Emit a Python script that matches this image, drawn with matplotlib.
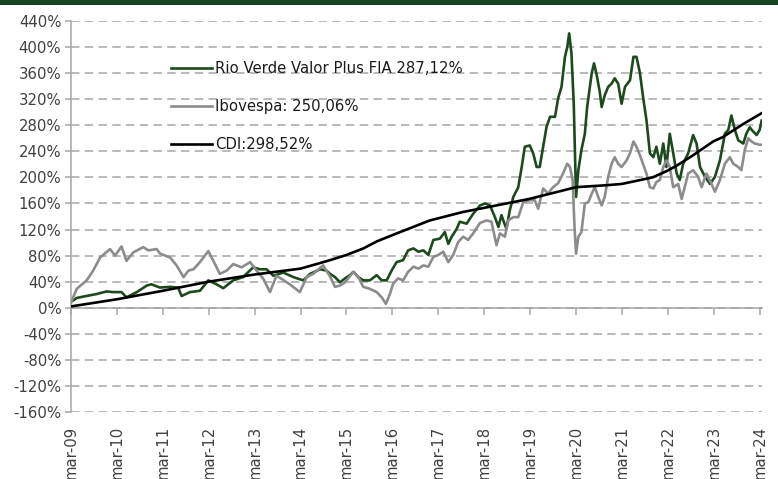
import matplotlib
matplotlib.use("Agg")
import matplotlib.pyplot as plt
from matplotlib.patches import Rectangle

# ---------------- data (months since Mar-2009, cumulative return %) ----------------
rv_months = [0, 1.5, 4, 6.7, 9.3, 11, 13.2, 14.5, 17.2, 19.8, 21, 23.2, 25.9, 28, 28.9, 31.1,
             33.7, 35.9, 38, 39.8, 42.4, 45, 47.6, 49.4, 51.1, 52.9, 55.5, 58.1, 60.7, 62.5,
             65.1, 66.8, 67.7, 69, 70.3, 71.6, 72.9, 73.8, 75.1, 76.4, 78.1, 79.9, 81.2, 82.5,
             83.8, 85.1, 86.8, 88.1, 89.5, 90.8, 92.1, 93.4, 94.7, 96.4, 97.7, 98.6, 99.5,
             100.8, 101.6, 103.4, 105.1, 106.9, 108.2, 109.5, 110.8, 111.7, 112.5, 113.8,
             114.7, 115.6, 116.9, 117.8, 118.6, 119.9, 120.8, 121.7, 122.5, 123.4, 124.3,
             125.2, 126.5, 127.3, 128.2, 129.1, 129.7, 130.2, 130.8, 131.4, 132.0, 132.6,
             133.4, 134.3, 134.9, 136.1, 136.7, 137.4, 138.2, 138.7, 139.5, 140.4, 141.3,
             142.1, 143.0, 143.9, 144.8, 146.1, 147.0, 147.8, 148.7, 149.5, 150.4, 151.3,
             152.2, 153.0, 153.9, 154.8, 155.6, 156.5, 157.4, 158.3, 159.1, 160.0, 161.3,
             162.6, 163.5, 164.4, 165.7, 167.0, 168.3, 169.6, 170.9, 171.8, 172.6, 173.5,
             174.4, 175.7, 176.5, 177.4, 177.9, 179.2, 180.0, 180.5]
rv_values = [9, 15, 18, 21, 25, 24, 24, 16, 24, 34, 36, 31, 32, 31, 18, 24,
             26, 42, 36, 30, 42, 47, 62, 59, 59, 49, 54, 47, 42, 52,
             59, 57, 52, 47, 39, 45, 50, 55, 47, 42, 42, 50, 42, 42,
             57, 70, 73, 88, 91, 86, 88, 81, 104, 106, 116, 98, 109,
             121, 132, 129, 144, 157, 160, 157, 139, 124, 142, 121,
             150, 170, 185, 216, 247, 249, 237, 216, 216, 247, 278,
             293, 293, 321, 339, 385, 400, 421, 390, 313, 170, 211,
             242, 267, 308, 360, 375, 357, 331, 308, 326, 339, 344,
             352, 344, 313, 339, 349, 385, 385, 360, 324, 288, 237,
             231, 247, 221, 252, 216, 267, 237, 206, 196, 221, 237,
             265, 252, 216, 201, 190, 201, 226, 267, 273, 295, 273,
             257, 252, 267, 277, 273, 265, 273, 287.12]

ibov_months = [0, 1.5, 4.1, 5.8, 7.6, 10.2, 11.5, 13.2, 14.5, 16.3, 18.9, 20.2, 22.4, 23.3,
               25.9, 27.6, 29.4, 30.7, 32.0, 33.7, 35.9, 37.2, 38.9, 40.7, 42.4, 44.6, 46.8,
               48.5, 50.3, 52.0, 53.7, 55.1, 57.2, 59.8, 61.6, 63.3, 65.9, 67.7, 69.0, 70.3,
               71.6, 73.8, 75.1, 76.4, 78.1, 79.9, 81.2, 82.3, 83.4, 84.2, 85.5, 86.8, 88.1,
               89.5, 90.8, 92.1, 93.4, 94.7, 96.0, 97.3, 98.6, 99.9, 101.2, 102.5, 103.8,
               105.1, 106.9, 108.6, 109.9, 111.2, 112.1, 113.4, 114.3, 115.6, 116.9, 118.2,
               119.9, 121.2, 122.1, 123.4, 124.7, 126.0, 127.3, 128.6, 129.7, 130.4, 131.1,
               131.6, 132.0, 132.6, 133.4, 134.3, 135.2, 136.1, 136.9, 137.8, 138.7, 139.5,
               140.4, 141.3, 142.1, 143.0, 143.9, 145.2, 146.1, 147.0, 147.8, 148.7, 149.5,
               150.4, 151.3, 152.2, 153.0, 153.9, 154.8, 155.6, 156.5, 157.4, 158.7, 159.6,
               160.4, 161.3, 162.6, 163.9, 164.8, 166.1, 167.4, 168.3, 169.6, 170.9, 172.2,
               173.1, 174.4, 175.2, 176.1, 177.0, 177.9, 178.7, 180.0, 180.5]
ibov_values = [8, 29, 42, 57, 77, 90, 80, 94, 72, 85, 93, 88, 90, 83,
               77, 65, 47, 57, 59, 70, 87, 72, 52, 57, 67, 62, 70,
               57, 44, 24, 49, 44, 36, 24, 47, 52, 65, 48, 32, 34,
               39, 55, 47, 32, 29, 24, 16, 6, 22, 37, 45, 42, 55,
               63, 60, 65, 63, 78, 81, 86, 70, 81, 101, 109, 104,
               114, 130, 134, 132, 96, 114, 109, 134, 139, 139, 162,
               165, 165, 152, 183, 175, 185, 191, 206, 221, 216, 196,
               124, 83, 109, 116, 160, 162, 175, 185, 170, 157, 170,
               201, 221, 231, 221, 216, 226, 237, 255, 247, 234, 221,
               206, 185, 183, 193, 196, 216, 226, 216, 185, 190, 167,
               185, 206, 211, 201, 185, 206, 190, 178, 196, 221, 231,
               221, 216, 211, 242, 260, 255, 252, 250, 250.06]

cdi_months = [0, 12, 24, 36, 48, 60, 67.7, 72, 76.4, 80, 85.1, 93.8, 102.5, 106.9, 119.8,
              132, 140, 144, 148, 152, 155.8, 158.3, 162.6, 167.8, 170.4, 175.7, 180.5]
cdi_values = [2, 13, 26, 40, 51, 60, 73, 81, 91, 102, 114, 134, 147, 152, 167,
              185, 188, 190, 195, 200, 210, 218, 234, 255, 262, 282, 298.52]

labels = ["Rio Verde Valor Plus FIA 287,12%", "Ibovespa: 250,06%", "CDI:298,52%"]
tick_labels = ["mar-09", "mar-10", "mar-11", "mar-12", "mar-13", "mar-14", "mar-15", "mar-16",
               "mar-17", "mar-18", "mar-19", "mar-20", "mar-21", "mar-22", "mar-23", "mar-24"]
y_ticks = list(range(-160, 441, 40))

# ---------------- styling ----------------
GREEN = "#1d4a1c"
GRAY = "#8c8c8c"
BLACK = "#000000"
GRID = "#a6a6a6"
TXT = "#404040"
FS = 10.7

plt.rcParams["font.family"] = ["DejaVu Sans"]

fig = plt.figure(figsize=(7.78, 4.79), dpi=100)
fig.patch.set_facecolor("white")
# header band
fig.patches.append(Rectangle((0, 1 - 5 / 479), 1, 5 / 479, transform=fig.transFigure,
                             facecolor="#17451f", edgecolor="none", zorder=0))

ax = fig.add_axes([71 / 778, 1 - 412 / 479, (762 - 71) / 778, (412 - 21) / 479])

lw = 1.9
ax.plot(rv_months, rv_values, color=GREEN, lw=lw, label=labels[0], zorder=3)
ax.plot(ibov_months, ibov_values, color=GRAY, lw=lw, label=labels[1], zorder=3)
ax.plot(cdi_months, cdi_values, color=BLACK, lw=lw, label=labels[2], zorder=4)

ax.set_ylim(-160, 440)
ax.set_xlim(0, 180.6)
ax.set_yticks(y_ticks)
ax.set_yticklabels([f"{v}%" for v in y_ticks], fontsize=FS, color=TXT)
ax.yaxis.grid(True, color=GRID, linestyle=(0, (5.5, 3.5)), linewidth=1.1)
ax.set_axisbelow(True)

for s in ["top", "right"]:
    ax.spines[s].set_visible(False)
ax.spines["left"].set_color(GRID)
ax.spines["left"].set_linewidth(1.1)
ax.spines["bottom"].set_position(("data", 0))
ax.spines["bottom"].set_color(GRID)
ax.spines["bottom"].set_linewidth(1.1)
ax.spines["bottom"].set_zorder(2)

xt = [12 * i for i in range(len(tick_labels))]
ax.set_xticks(xt)
ax.tick_params(axis="x", direction="out", length=5, width=1.1, color=GRID,
               labelbottom=False)
ax.tick_params(axis="y", direction="out", length=4, width=1.1, color=GRID, pad=3)

sec = ax.secondary_xaxis("bottom")
sec.set_xticks(xt)
sec.set_xticklabels(tick_labels, rotation=90, fontsize=FS, color=TXT)
sec.tick_params(length=0, pad=10)
sec.spines["bottom"].set_visible(False)

leg = ax.legend(loc="upper left", bbox_to_anchor=((170.7 - 71) / 691, (412 - 61) / 391),
                frameon=False, fontsize=FS, handlelength=2.75, handletextpad=0.25,
                labelspacing=1.55, borderpad=0, borderaxespad=0)
for t in leg.get_texts():
    t.set_color("#1a1a1a")

fig.savefig("out.png", dpi=100)
